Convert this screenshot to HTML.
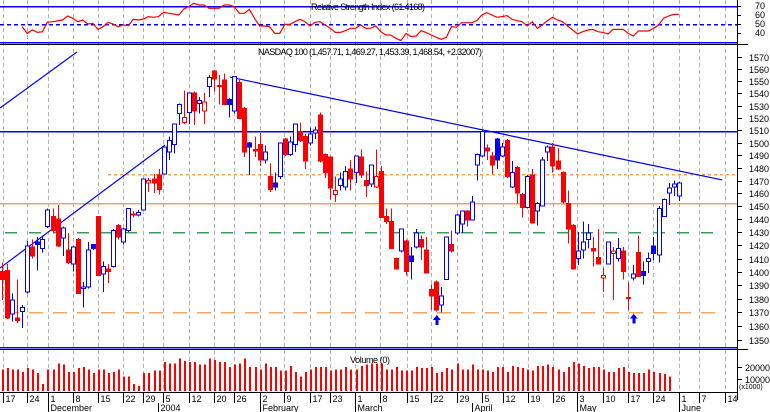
<!DOCTYPE html>
<html><head><meta charset="utf-8"><style>
html,body{margin:0;padding:0;background:#fff;}
svg{display:block;font-family:"Liberation Sans",sans-serif;}
text{font-size:9px;fill:#000;}
</style></head><body>
<svg id="chart" width="770" height="412" viewBox="0 0 770 412" xmlns="http://www.w3.org/2000/svg" shape-rendering="crispEdges">
<rect x="0" y="0" width="770" height="412" fill="#fff"/>
<g id="grid"></g>
<g id="rsi"></g>
<g id="main"></g>
<g id="vol"></g>
<g id="axes"></g>
<text x="368" y="10" text-anchor="middle" textLength="114">Relative Strength Index (61.4168)</text>
<text x="370" y="55" text-anchor="middle" textLength="224">NASDAQ 100 (1,457.71, 1,469.27, 1,453.39, 1,468.54, +2.32007)</text>
<text x="370" y="363" text-anchor="middle" textLength="40">Volume (0)</text>
</svg>
<script>
const opens=[1403,1404,1370,1367,1372,1387,1422,1426,1421,1438,1446,1444,1429,1420,1409,1428,1390,1391,1424,1446,1401,1405,1407,1439,1426,1435,1448,1447,1451,1472,1475,1478,1479,1496,1502,1526,1519,1527,1542,1534,1528,1547,1559,1548,1552,1537,1528,1550,1530,1503,1498,1502,1490,1477,1472,1477,1506,1494,1502,1512,1508,1503,1511,1525,1494,1492,1463,1470,1469,1483,1480,1492,1474,1471,1469,1481,1446,1442,1413,1419,1427,1415,1422,1428,1420,1389,1395,1377,1397,1424,1433,1440,1450,1443,1486,1493,1499,1493,1506,1493,1505,1469,1484,1463,1453,1478,1450,1454,1496,1500,1489,1480,1456,1439,1413,1420,1428,1421,1414,1398,1409,1417,1413,1419,1383,1398,1418,1403,1411,1423,1416,1446,1464,1469,1462];
const highs=[1410,1409,1386,1397,1377,1427,1428,1430,1431,1452,1452,1455,1438,1433,1423,1429,1395,1426,1424,1446,1411,1409,1436,1440,1437,1452,1450,1451,1475,1476,1479,1483,1500,1508,1518,1534,1544,1542,1543,1539,1542,1556,1560,1556,1557,1538,1555,1552,1531,1504,1508,1511,1501,1487,1480,1503,1507,1508,1518,1519,1510,1515,1516,1527,1495,1493,1477,1480,1485,1490,1493,1498,1481,1486,1498,1485,1452,1452,1414,1436,1428,1422,1436,1431,1430,1393,1396,1391,1430,1435,1448,1450,1451,1462,1495,1513,1502,1496,1507,1503,1506,1489,1485,1464,1478,1483,1457,1492,1501,1503,1499,1481,1466,1440,1434,1442,1440,1430,1436,1406,1426,1422,1429,1422,1395,1408,1431,1411,1418,1430,1454,1460,1472,1474,1473];
const lows=[1381,1366,1364,1363,1359,1386,1413,1404,1418,1437,1433,1422,1415,1409,1403,1386,1375,1390,1420,1400,1387,1394,1406,1428,1424,1434,1445,1446,1451,1465,1464,1463,1479,1490,1495,1517,1518,1518,1517,1526,1518,1539,1543,1533,1533,1523,1526,1522,1492,1478,1492,1485,1487,1465,1466,1475,1493,1493,1496,1504,1483,1501,1506,1488,1476,1459,1457,1466,1466,1466,1472,1476,1461,1469,1468,1445,1440,1421,1405,1418,1400,1397,1421,1412,1402,1373,1372,1371,1397,1418,1432,1433,1438,1443,1474,1492,1490,1479,1483,1492,1476,1468,1456,1445,1452,1441,1439,1454,1489,1480,1482,1456,1425,1405,1408,1413,1421,1407,1409,1387,1409,1381,1411,1397,1373,1396,1399,1393,1402,1412,1410,1446,1455,1462,1458];
const closes=[1397,1367,1381,1365,1375,1423,1415,1424,1428,1451,1435,1423,1437,1410,1422,1386,1391,1420,1421,1400,1407,1403,1435,1430,1436,1452,1447,1449,1475,1474,1472,1467,1500,1505,1518,1533,1523,1542,1528,1536,1535,1554,1553,1547,1533,1533,1555,1522,1496,1500,1497,1490,1496,1467,1469,1503,1494,1504,1518,1505,1489,1510,1513,1489,1480,1468,1466,1475,1481,1475,1493,1478,1470,1486,1477,1445,1442,1421,1405,1436,1403,1411,1433,1422,1402,1384,1373,1384,1430,1419,1447,1450,1443,1457,1494,1512,1497,1486,1490,1500,1477,1480,1464,1453,1477,1441,1456,1490,1500,1485,1483,1457,1436,1405,1419,1426,1433,1419,1409,1400,1426,1419,1421,1403,1382,1401,1399,1400,1413,1417,1452,1459,1468,1471,1472];
const volumes=[18,19,18,18,16,19,18,15,6,18,18,23,22,16,16,19,20,18,15,18,18,15,16,18,12,12,6,4,15,15,17,17,24,23,23,27,25,24,24,22,22,27,26,24,24,20,22,23,27,20,20,18,23,20,20,17,17,21,16,12,16,18,20,20,20,17,18,18,20,18,18,21,22,23,23,23,18,18,20,17,17,17,20,19,19,20,15,16,19,18,23,18,18,22,18,18,17,16,20,20,16,21,20,19,18,17,21,21,22,20,18,16,20,24,23,21,19,20,20,18,16,16,19,20,16,15,15,15,18,16,15,14,12];
const rsiValues=[47,39.6,43.3,40.7,41.5,51.9,52.6,53.5,54.4,58.9,56.3,52.6,54.4,50,50.7,44,47,51.9,50,47,49,48,55.2,54.4,55.6,58.2,57.4,58.2,63,61.9,61.1,60,66.7,69.3,73,71.1,71.1,67.4,67.4,67.4,71.1,71.1,69.3,61.9,61.9,66.3,56.3,47.8,47.8,47,39.6,39.6,49.6,49.6,52.6,55.2,52.6,47.8,51.9,52.6,48.9,45.2,40.7,40.7,42.6,45.2,45.2,48.9,45.2,45.2,47.8,41.5,37.8,37.8,
34.1,31.5,39.6,36,36.7,42.6,40.4,37.8,35.2,33,35.2,47,46.3,51.5,51.5,51.5,53.7,60,62.6,60,57.4,58.2,59.3,55.2,53.7,52.6,47.8,52.6,45.2,48.9,53.7,57.4,54.4,52.6,47.8,43.3,38.9,41.5,43.3,44,41.5,40.7,38.9,44,44,44,39.6,36.7,42.2,42.2,42.2,45.2,48.9,56.3,58.9,60.7,60.7];
const weekTickDays=[0.2,4.95,9.1,14.06,19,23.96,27.9,31.9,37,42,45.9,51.1,55.8,61,64.95,69.9,74.85,80.2,84.95,90.1,95.05,99.2,104.2,109.1,113.9,119,124,128.9,134.1,138,143.2];
const weekTickLabels=["17","24","1","8","15","22","29","5","12","20","26","2","9","17","23","1","8","15","22","29","5","12","19","26","3","10","17","24","1","7","14"];
const monthDays=[9.1,30.9,51.1,69.9,93.1,113.9,134.1];
const monthLabels=["December","2004","February","March","April","May","June"];
const priceTicks=[1570,1560,1550,1540,1530,1520,1510,1500,1490,1480,1470,1460,1450,1440,1430,1420,1410,1400,1390,1380,1370,1360,1350];
const rsiTicks=[70,60,50,40];
const volTicks=[20000,10000];
const trendDays=[[-0.4,14.85],[-0.4,32.3],[45.1,142.6]];
const trendPrices=[[1530.3,1573.9],[1405.8,1501.5],[1554.4,1474.3]];
const levelPrices=[1512.6,1479,1456.4,1434,1371.6];
const levelColors=["#0000ff","#ffa040","#f4a460","#3c9a5a","#f4a460"];
const levelDash=["","3,3","","12,12","14,10"];
const arrowDays=[86,125];
const arrowPrices=[1370,1371];

const NS="http://www.w3.org/2000/svg";
function mk(tag,attrs,parent){const e=document.createElementNS(NS,tag);for(const k in attrs)e.setAttribute(k,attrs[k]);parent.appendChild(e);return e;}
const xScale=i=>2+i*5.05;
const yPrice=p=>57+(1570-p)*1.285;
const yAxisPrice=p=>57.3+1872*Math.log(1570/p);
const yRsi=v=>6+(70-v)*0.9;
const yVol=v=>391-v*1.2;
const AX=737;
const grid=document.getElementById('grid'),rsiG=document.getElementById('rsi'),mainG=document.getElementById('main'),volG=document.getElementById('vol'),axes=document.getElementById('axes');

weekTickDays.forEach((d,i)=>{const x=Math.round(xScale(d))+0.5;
 const l=mk('line',{x1:x,y1:0,x2:x,y2:392,stroke:'#b0b0b0','stroke-dasharray':'4,3'},grid);
 
 
 const t=mk('line',{x1:x,y1:392,x2:x,y2:403,stroke:'#000'},axes);
 
 
 const tx=mk('text',{x:x+2,y:402},axes);tx.textContent=weekTickLabels[i];
 
 
});
monthDays.forEach((d,i)=>{const x=Math.round(xScale(d))+0.5;
 const t=mk('line',{x1:x,y1:403,x2:x,y2:412,stroke:'#000'},axes);
 
 
 const tx=mk('text',{x:x+2,y:411},axes);tx.textContent=monthLabels[i];
 
 
});

// RSI panel
[[70,''],[50,'4,3'],[30,'']].forEach(([v,da])=>{const y=Math.round(yRsi(v))+0.5;
 const l=mk('line',{x1:0,y1:y,x2:AX,y2:y,stroke:'#0000ff','stroke-width':1.5,'stroke-dasharray':da},rsiG);
 
 
});
const off=closes.length-rsiValues.length;
const rp=rsiValues.map((v,i)=>xScale(i+off).toFixed(1)+','+yRsi(v).toFixed(1)).join(' ');
const rl=mk('polyline',{points:rp,fill:'none',stroke:'#ff0000','stroke-width':1.2,'shape-rendering':'auto'},rsiG);


rsiTicks.forEach(v=>{const y=yRsi(v);
 const t=mk('line',{x1:AX,y1:Math.round(y)+0.5,x2:AX+4,y2:Math.round(y)+0.5,stroke:'#000'},axes);
 
 
 const tx=mk('text',{x:755,y:y+3},axes);tx.textContent=v;
 
 
});

// separators
[[44.5,0,748,'#000'],[42.5,0,AX,'#0000ff'],[347.5,0,AX,'#0000ff'],[349.5,0,748,'#000'],[392.5,0,AX,'#000']].forEach(([y,a,b,c])=>{
 const l=mk('line',{x1:a,y1:y,x2:b,y2:y,stroke:c,'stroke-width':c==='#000'?1:1.5},axes);
 
 
});
const ax=mk('line',{x1:AX+0.5,y1:0,x2:AX+0.5,y2:400,stroke:'#000'},axes);



// levels
levelPrices.forEach((p,i)=>{const y=Math.round(yPrice(p))+0.5;
 const l=mk('line',{x1:i===0?0:(i===3||i===4?5:108),y1:y,x2:i===0?AX:725,y2:y,stroke:levelColors[i],'stroke-width':1.5,'stroke-dasharray':levelDash[i]},mainG);
 if(i===2||i===1){l.setAttribute('x1',i===1?108:0);l.setAttribute('x2',AX);}
 
 
});
// trendlines
trendDays.forEach((d,i)=>{
 const l=mk('line',{x1:xScale(d[0]),y1:yPrice(trendPrices[i][0]),x2:xScale(d[1]),y2:yPrice(trendPrices[i][1]),stroke:'#0000ff','stroke-width':1.2,'shape-rendering':'auto'},mainG);
 
 
});
// candles
for(let i=0;i<closes.length;i++){
 const o=opens[i],h=highs[i],lo=lows[i],c=closes[i];
 const prev=i>0?closes[i-1]:o;
 const col=c>=prev?'#0000ff':'#ff0000';
 const filled=c<o;
 const x=Math.round(xScale(i));
 const g=mk('g',{},mainG);
 
 
 const w=mk('line',{x1:x+0.5,y1:yPrice(h),x2:x+0.5,y2:yPrice(lo),stroke:col,'stroke-width':1},g);
 
 
 const top=yPrice(Math.max(o,c)),bot=yPrice(Math.min(o,c));
 const b=mk('rect',{x:x-1.5,y:top,width:4,height:Math.max(1,bot-top),fill:filled?col:'#fff',stroke:col,'stroke-width':1},g);
 
 
}
// arrows
arrowDays.forEach((d,i)=>{const x=xScale(d)+0.5,y=yPrice(arrowPrices[i])+1;
 const a=mk('path',{d:`M${x},${y} l-4,5 h2.5 v5 h3 v-5 h2.5 z`,fill:'#0000ff'},mainG);
 
 
});
priceTicks.forEach(p=>{const y=Math.round(yAxisPrice(p))+0.5;
 const t=mk('line',{x1:AX,y1:y,x2:AX+5,y2:y,stroke:'#000'},axes);
 
 
 const tx=mk('text',{x:749,y:y+3.5},axes);tx.textContent=p;
 
 
});
// volume
const n=Math.min(volumes.length,closes.length);
for(let i=0;i<n;i++){const x=Math.round(xScale(i));
 const r=mk('rect',{x:x,y:yVol(volumes[i]),width:2,height:391-yVol(volumes[i]),fill:'#ff0000'},volG);
 
 
}
volTicks.forEach(v=>{const y=Math.round(yVol(v/1000))+0.5;
 const t=mk('line',{x1:AX,y1:y,x2:AX+5,y2:y,stroke:'#000'},axes);
 
 
 const tx=mk('text',{x:745,y:y+3.5},axes);tx.textContent=v;
 
 
});
const u=mk('text',{x:739,y:389,style:'font-size:7px'},axes);u.textContent='(x1000)';


</script>
</body></html>
